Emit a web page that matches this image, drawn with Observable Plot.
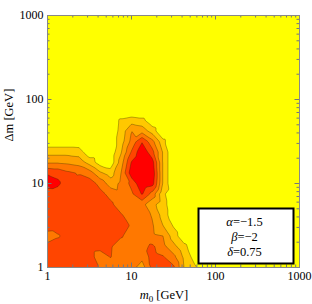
<!DOCTYPE html>
<html><head><meta charset="utf-8">
<script src="https://cdn.jsdelivr.net/npm/d3@7"></script>
<script src="https://cdn.jsdelivr.net/npm/@observablehq/plot@0.6"></script>
<style>html,body{margin:0;padding:0;background:#fff;}</style>
</head><body><div id="chart"></div>
<script>
// grid sample positions (GeV), log-spaced
const m0Grid = [1, 1.334, 1.778, 2.371, 3.162, 4.217, 5.623, 7.499, 10, 13.34, 17.78, 23.71, 31.62, 42.17, 56.23, 74.99, 100, 316.2, 1000];
const dmGrid = [1, 1.334, 1.778, 2.371, 3.162, 4.217, 5.623, 7.499, 10, 13.34, 17.78, 23.71, 31.62, 42.17, 56.23, 74.99, 100, 316.2, 1000];
// contour level read at each grid point; one row per Δm value (bottom to top), one column per m0 value
const levelRows = [
  [4.5,4.5,4.5,4.5,4.5,3.9,3.5,3.5,3.4,2.5,4.3,4.4,4.2,2.0,1.2,0.3,0,0,0],
  [4.5,4.5,4.5,4.5,4.5,3.4,4.05,3.4,3.4,3.3,4.4,4.1,3.3,1.8,0.6,0.3,0,0,0],
  [4.3,4.5,4.5,4.5,4.5,4.4,4.1,3.5,3.5,3.7,4.2,3.3,2.3,1.3,0.3,0,0,0,0],
  [3.5,3.9,4.5,4.5,4.5,4.5,4.5,4.1,3.6,3.4,3.2,3.0,1.5,0.3,0,0,0,0,0],
  [4.6,4.5,4.5,4.5,4.5,4.5,4.5,4.4,3.9,3.3,3.1,2.0,0.9,0.2,0,0,0,0,0],
  [4.5,4.5,4.5,4.5,4.5,4.5,4.5,4.1,3.5,3.5,2.9,1.6,0.3,0,0,0,0,0,0],
  [4.5,4.5,4.5,4.5,4.5,4.5,4.2,3.5,3.2,3.3,2.3,1.4,0.3,0,0,0,0,0,0],
  [4.4,4.5,4.5,4.5,4.5,4.3,3.7,3.3,3.8,5.1,3.6,1.2,0.3,0,0,0,0,0,0],
  [5.5,5.2,4.4,4.5,4.5,3.7,2.5,3.2,4.3,5.8,5.4,1.9,0,0,0,0,0,0,0],
  [4.9,4.7,4.2,3.9,3.5,2.2,1.5,3.0,5.6,6.0,5.7,1.9,0,0,0,0,0,0,0],
  [2.9,2.9,2.8,2.6,1.6,0.5,0.3,2.5,5.1,6.2,5.4,1.9,0,0,0,0,0,0,0],
  [1.6,1.6,1.6,1.5,0.3,0.3,0.3,1.9,4.1,5.8,4.3,1.9,0,0,0,0,0,0,0],
  [0.3,0.3,0.3,0.3,0.3,0.3,0.3,1.5,3.3,4.9,3.3,1.3,0,0,0,0,0,0,0],
  [0.3,0.3,0.3,0.3,0.3,0.3,0.3,1.3,3.0,2.6,1.5,0,0,0,0,0,0,0,0],
  [0.3,0.3,0.3,0.3,0.3,0.3,0.3,1.2,1.5,1.3,0.3,0,0,0,0,0,0,0,0],
  [0,0,0,0,0,0,0,0,0,0,0,0,0,0,0,0,0,0,0],
  [0,0,0,0,0,0,0,0,0,0,0,0,0,0,0,0,0,0,0],
  [0,0,0,0,0,0,0,0,0,0,0,0,0,0,0,0,0,0,0],
  [0,0,0,0,0,0,0,0,0,0,0,0,0,0,0,0,0,0,0]
];
const bandThresholds = [0, 1, 2, 3, 4, 5];
const bandColors = ["#FFFF00", "#FFC800", "#FFA000", "#FF7800", "#FF4500", "#FF0000"];
const majorTicks = [1, 10, 100, 1000];
const minorTicks = [2,3,4,5,6,7,8,9,20,30,40,50,60,70,80,90,200,300,400,500,600,700,800,900];
const paramGreek = ["α", "β", "δ"];
const paramValues = ["−1.5", "−2", "0.75"];
const xTitle = "m0 [GeV]";
const yTitle = "Δm [GeV]";

const grid = [];
levelRows.forEach((row, j) => row.forEach((v, i) => grid.push({m0: m0Grid[i], dm: dmGrid[j], v})));
const paramLines = paramGreek.map((g, k) => g + "=" + paramValues[k]);

const W = 312, H = 304, mL = 47, mR = 13, mT = 15, mB = 37;
const fw = W - mL - mR, fh = H - mT - mB;
const serif = "'Liberation Serif', 'Times New Roman', serif";
const tickColor = "#777";

const plot = Plot.plot({
  width: W, height: H,
  marginLeft: mL, marginRight: mR, marginTop: mT, marginBottom: mB,
  style: {fontFamily: serif, fontSize: "12px", background: "white", color: "black"},
  x: {type: "log", domain: [1, 1000]},
  y: {type: "log", domain: [1, 1000]},
  color: {type: "ordinal", domain: bandThresholds, range: bandColors},
  marks: [
    Plot.contour(grid, {x: "m0", y: "dm", value: "v", fill: "value", thresholds: bandThresholds,
      interpolate: "barycentric", pixelSize: 1, stroke: "#3a2a00", strokeOpacity: 0.5, strokeWidth: 0.7}),
    Plot.tickX(majorTicks, {x: d => d, stroke: tickColor, insetTop: fh - 4.5}),
    Plot.tickX(minorTicks, {x: d => d, stroke: tickColor, insetTop: fh - 2.5}),
    Plot.tickX(majorTicks, {x: d => d, stroke: tickColor, insetBottom: fh - 4.5}),
    Plot.tickX(minorTicks, {x: d => d, stroke: tickColor, insetBottom: fh - 2.5}),
    Plot.tickY(majorTicks, {y: d => d, stroke: tickColor, insetRight: fw - 4.5}),
    Plot.tickY(minorTicks, {y: d => d, stroke: tickColor, insetRight: fw - 2.5}),
    Plot.tickY(majorTicks, {y: d => d, stroke: tickColor, insetLeft: fw - 4.5}),
    Plot.tickY(minorTicks, {y: d => d, stroke: tickColor, insetLeft: fw - 2.5}),
    Plot.frame({stroke: "#888"}),
    Plot.axisX({ticks: majorTicks, tickSize: 0, tickPadding: 4, tickFormat: d => String(d), label: null}),
    Plot.axisY({ticks: majorTicks, tickSize: 0, tickPadding: 4, tickFormat: d => String(d), label: null}),
    Plot.frame({fill: "white", stroke: "black", strokeWidth: 2, insetLeft: 151, insetRight: 6, insetTop: 193, insetBottom: 4}),
    Plot.text([paramLines.join("\n")], {text: d => d, frameAnchor: "bottom-right", textAnchor: "middle", lineAnchor: "middle", dx: -55, dy: -31, lineHeight: 1.2, fontSize: 12.5}),
    Plot.text([yTitle], {text: d => d, frameAnchor: "left", rotate: -90, dx: -38.5, fontSize: 12.5}),
    Plot.text([xTitle], {text: d => d, frameAnchor: "bottom", lineAnchor: "middle", dx: -9.5, dy: 27.5, fontSize: 12.5})
  ]
});
document.getElementById("chart").appendChild(plot);

// typographic touches: italic symbols, subscript
plot.querySelectorAll("text").forEach(t => {
  if (t.textContent === xTitle) {
    t.innerHTML = '<tspan font-style="italic">m</tspan><tspan font-size="9" dy="3">0</tspan><tspan dy="-3"> [GeV]</tspan>';
  }
});
plot.querySelectorAll("tspan").forEach(ts => {
  const k = paramLines.indexOf(ts.textContent);
  if (k >= 0) ts.innerHTML = '<tspan font-style="italic">' + paramGreek[k] + '</tspan>=' + paramValues[k];
});
</script>
</body></html>
